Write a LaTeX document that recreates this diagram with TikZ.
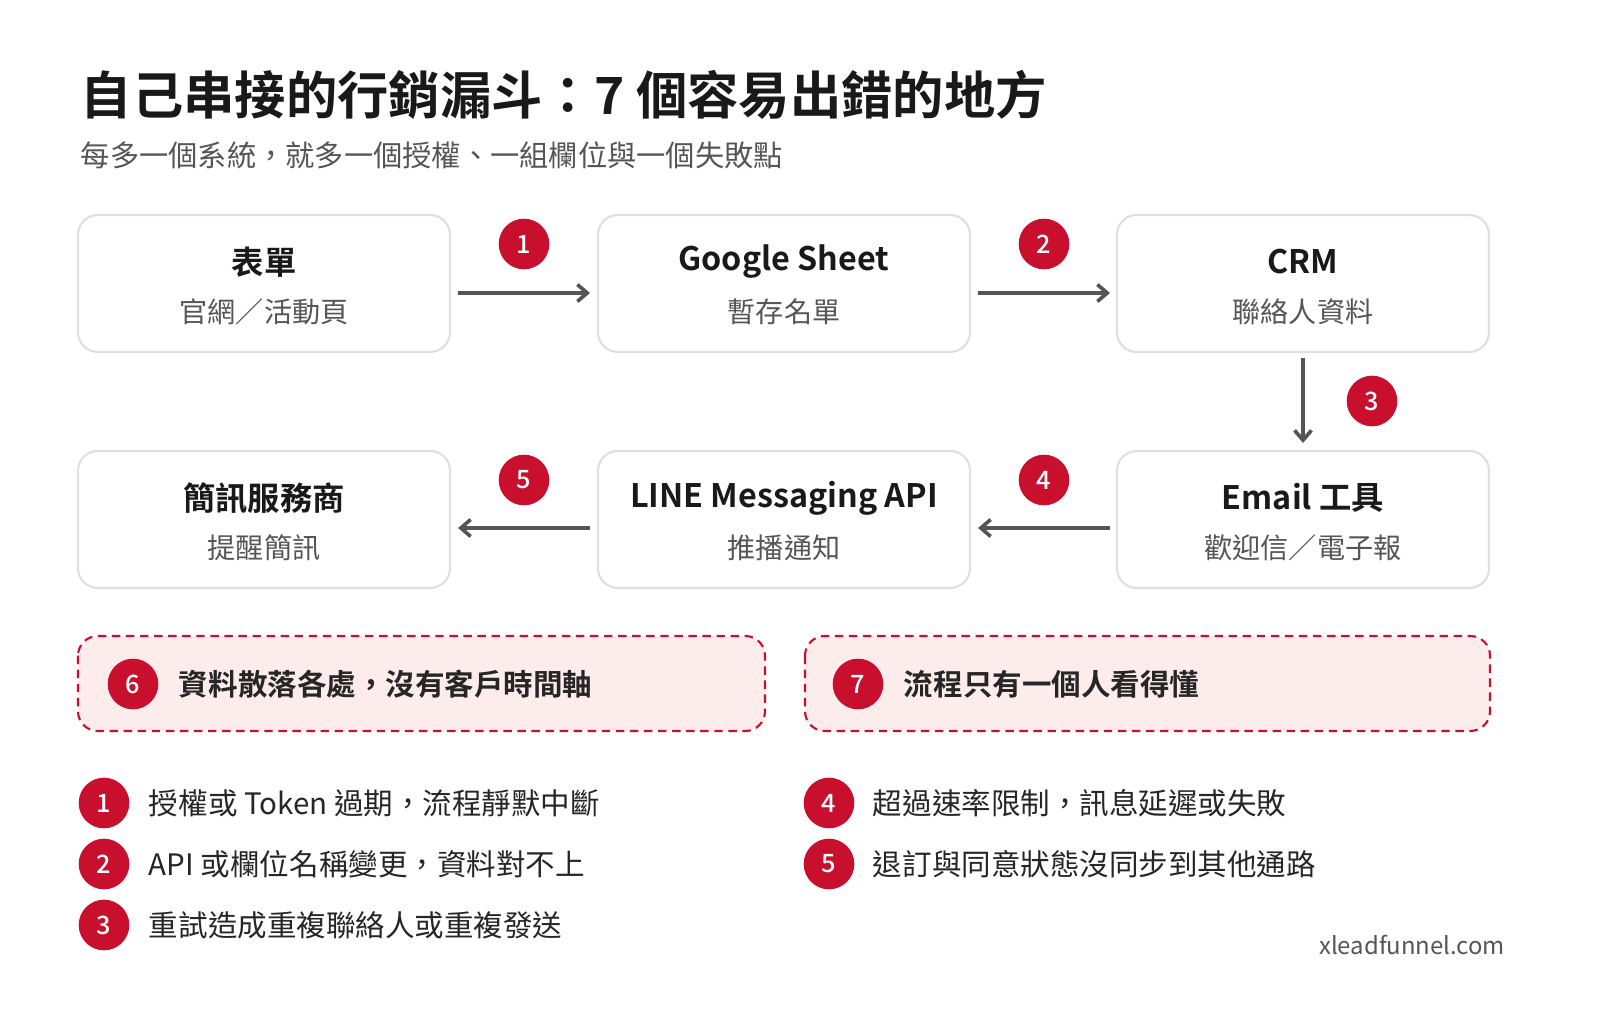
\documentclass[tikz,border=0pt]{standalone}
\usepackage{fontspec}
\setmainfont{Noto Sans CJK TC}[BoldFont={Noto Sans CJK TC Bold}]
\newfontfamily\medfont{Noto Sans CJK TC Medium}
\usetikzlibrary{arrows.meta}
\definecolor{badgered}{HTML}{C8102E}
\definecolor{boxline}{HTML}{DCDFE4}
\definecolor{arrowgray}{HTML}{555555}
\definecolor{softpink}{HTML}{FDECEC}
\definecolor{subgray}{HTML}{555555}
\tikzset{
  stage/.style={draw=boxline, line width=1.5pt, rounded corners=14pt, fill=white},
  warn/.style={draw=badgered, line width=1.5pt, dash pattern=on 6pt off 4pt, rounded corners=14pt, fill=softpink},
  badge/.style={circle, fill=badgered, text=white, minimum size=36pt, inner sep=0pt, font=\fontsize{18}{18}\selectfont\medfont},
  flow/.style={draw=arrowgray, line width=2.6pt, -{Straight Barb[length=7pt,width=12pt]}},
  head/.style={font=\fontsize{23}{27}\selectfont\bfseries, text=black!90},
  sub/.style={font=\fontsize{20}{24}\selectfont, text=subgray},
  item/.style={anchor=west, font=\fontsize{21}{25}\selectfont, text=black!85}
}
\begin{document}
\begin{tikzpicture}[x=0.025cm,y=-0.025cm]
  \useasboundingbox (0,0) rectangle (1600,1010);
  % title
  \node[anchor=west, font=\fontsize{36.5}{40}\selectfont\bfseries, text=black!90] (title) at (76,95) {自己串接的行銷漏斗：7 個容易出錯的地方};
  \node[anchor=west, font=\fontsize{20.8}{24}\selectfont, text=subgray] (subtitle) at (76,155) {每多一個系統，就多一個授權、一組欄位與一個失敗點};

  % stage boxes
  \draw[stage] (78,215) rectangle (450,352);
  \draw[stage] (598,215) rectangle (970,352);
  \draw[stage] (1117,215) rectangle (1489,352);
  \draw[stage] (78,451) rectangle (450,588);
  \draw[stage] (598,451) rectangle (970,588);
  \draw[stage] (1117,451) rectangle (1489,588);

  \node[head] (form) at (264,262) {表單};
  \node[sub] (formsub) at (264,312) {官網／活動頁};
  \node[head] (sheet) at (784,262) {Google Sheet};
  \node[sub] (sheetsub) at (784,312) {暫存名單};
  \node[head] (crm) at (1303,262) {CRM};
  \node[sub] (crmsub) at (1303,312) {聯絡人資料};
  \node[head] (sms) at (264,498) {簡訊服務商};
  \node[sub] (smssub) at (264,548) {提醒簡訊};
  \node[head] (line) at (784,498) {LINE Messaging API};
  \node[sub] (linesub) at (784,548) {推播通知};
  \node[head] (email) at (1303,498) {Email 工具};
  \node[sub] (emailsub) at (1303,548) {歡迎信／電子報};

  % connectors
  \coordinate (a1s) at (458,293); \coordinate (a1e) at (590,293);
  \coordinate (a2s) at (978,293); \coordinate (a2e) at (1110,293);
  \coordinate (a3s) at (1303,358); \coordinate (a3e) at (1303,443);
  \coordinate (a4s) at (1110,528); \coordinate (a4e) at (978,528);
  \coordinate (a5s) at (590,528); \coordinate (a5e) at (458,528);
  \draw[flow] (a1s) -- (a1e);
  \draw[flow] (a2s) -- (a2e);
  \draw[flow] (a3s) -- (a3e);
  \draw[flow] (a4s) -- (a4e);
  \draw[flow] (a5s) -- (a5e);
  \node[badge] (b1) at (524,244) {1};
  \node[badge] (b2) at (1044,244) {2};
  \node[badge] (b3) at (1372,401) {3};
  \node[badge] (b4) at (1044,480) {4};
  \node[badge] (b5) at (524,480) {5};

  % warnings
  \draw[warn] (78,636) rectangle (765,731);
  \draw[warn] (805,636) rectangle (1490,731);
  \node[badge] (b6) at (133,684) {6};
  \node[item, font=\fontsize{21}{25}\selectfont\bfseries] (w6) at (174,684) {資料散落各處，沒有客戶時間軸};
  \node[badge] (b7) at (858,684) {7};
  \node[item, font=\fontsize{21}{25}\selectfont\bfseries] (w7) at (899,684) {流程只有一個人看得懂};

  % list
  \foreach \n/\y/\t in {1/803/授權或 Token 過期，流程靜默中斷,
                        2/864/API 或欄位名稱變更，資料對不上,
                        3/925/重試造成重複聯絡人或重複發送}{
    \node[badge] (l\n) at (104,\y) {\n};
    \node[item] (lt\n) at (144,\y) {\t};
  }
  \foreach \n/\y/\t in {4/803/超過速率限制，訊息延遲或失敗,
                        5/864/退訂與同意狀態沒同步到其他通路}{
    \node[badge] (l\n) at (829,\y) {\n};
    \node[item] (lt\n) at (868,\y) {\t};
  }

  \node[anchor=east, font=\fontsize{17}{21}\selectfont, text=subgray] (site) at (1510,945) {xleadfunnel.com};
\end{tikzpicture}
\end{document}
